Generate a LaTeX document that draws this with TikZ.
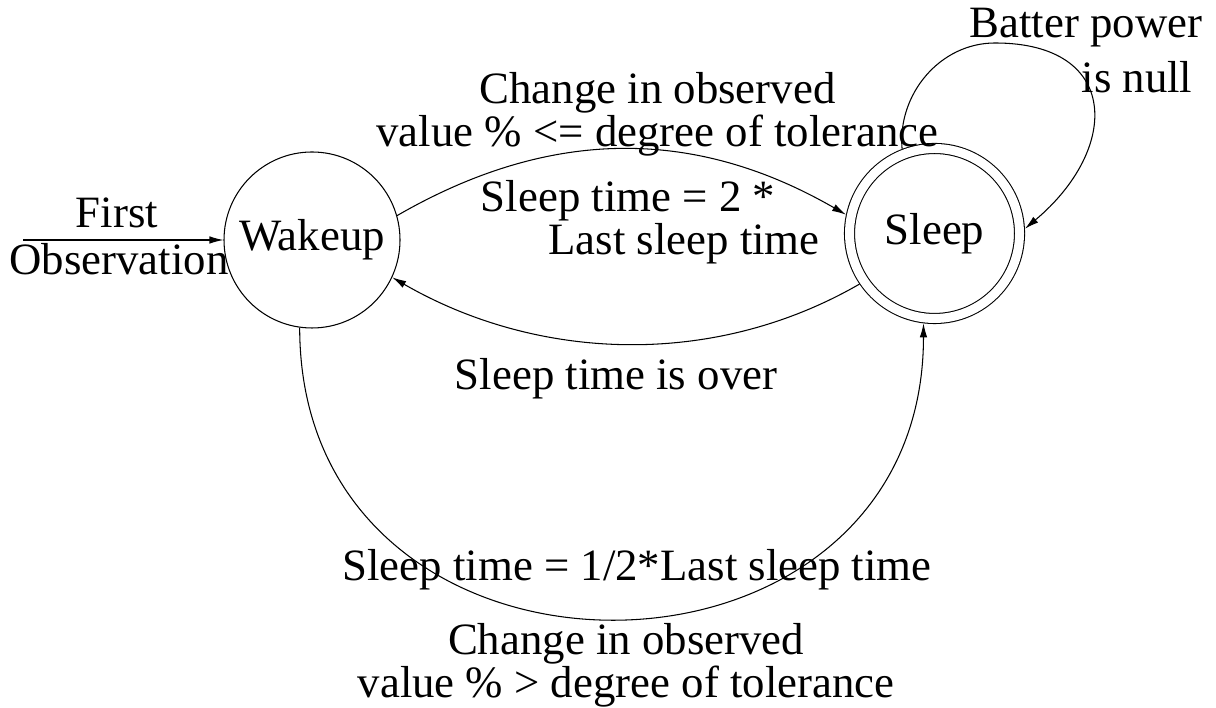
\documentclass[tikz,border=0pt]{standalone}
\usepackage{fontspec}
\setmainfont{Liberation Serif}
\usetikzlibrary{arrows.meta}

\begin{document}
\begin{tikzpicture}[
    every path/.style={line width=0.3pt},
    lbl/.style={black, inner sep=0pt, align=center, font=\fontsize{12.75}{12.2}\selectfont},
    circ/.style={draw, circle, minimum size=1.76cm, inner sep=0pt},
    >={Latex[length=1.4mm,width=0.75mm]}
  ]
    \useasboundingbox (0,0) rectangle (12.16,7.08);
    % Draw the two states
    \node[circ, lbl] (wake) at (3.12,4.68) {Wakeup};
    \node[circ, lbl, double, double distance=0.09cm, minimum size=1.70cm, outer sep=0.055cm] (sleep) at (9.345,4.745) {Sleep};
    % Start arrow
    \coordinate (start) at (0.23,4.68);
    \draw[->] (start) -- (wake);
    \node[lbl] (first) at (1.17,4.95) {First};
    \node[lbl] (obs) at (1.19,4.49) {Observation};
    % Wakeup -> Sleep (small change)
    \draw[->] (wake.16) to[out=30, in=150] (sleep.168);
    \node[lbl] (chg) at (6.575,5.94) {Change in observed\\value \% <= degree of tolerance};
    \node[lbl] (dbl1) at (6.28,5.07) {Sleep time = 2 *};
    \node[lbl] (dbl2) at (6.84,4.64) {Last sleep time};
    % Sleep -> Wakeup
    \draw[->] (sleep.214) to[out=210, in=-30, looseness=0.92] (wake.-25);
    \node[lbl] (over) at (6.16,3.29) {Sleep time is over};
    % Sleep self loop
    \coordinate (looptop) at (9.95,6.65);
    \draw[->] (sleep.111) to[out=95, in=180] (looptop) to[out=0, in=40, looseness=1.7] (sleep.3);
    \node[lbl] (batt) at (10.86,6.80) {Batter power};
    \node[lbl] (null) at (11.37,6.31) {is null};
    % Wakeup -> Sleep (big change)
    \draw[->] (wake.262) to[out=-90, in=-90, looseness=1.6] (sleep.263);
    \node[lbl] (half) at (6.37,1.38) {Sleep time = 1/2*Last sleep time};
    \node[lbl] (bigchg) at (6.26,0.425) {Change in observed\\value \% > degree of tolerance};
\end{tikzpicture}
\end{document}
